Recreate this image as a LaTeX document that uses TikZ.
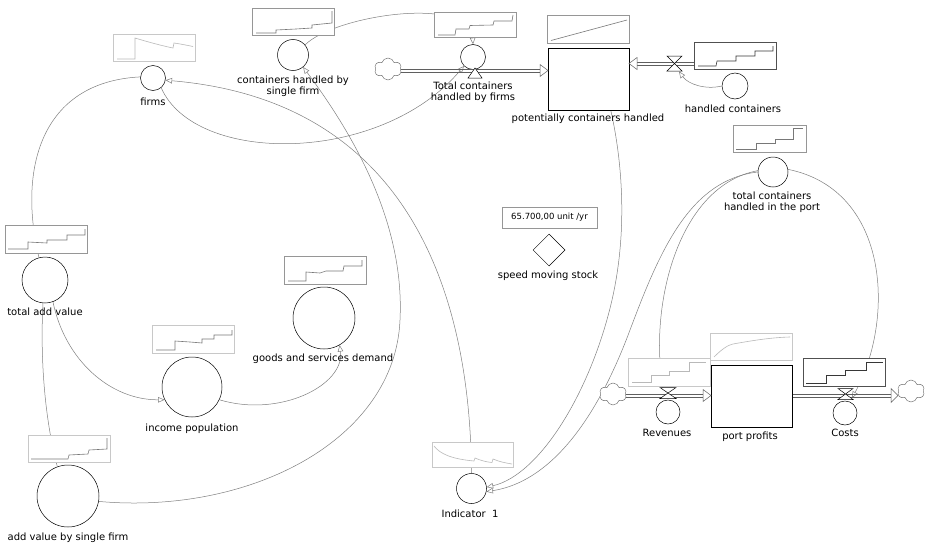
\documentclass[tikz,border=0pt]{standalone}
\usepackage{fontspec}
\setmainfont{DejaVu Sans}
\usetikzlibrary{arrows.meta,shapes.geometric,shapes.symbols,backgrounds}

\definecolor{linkgray}{RGB}{128,128,128}
\definecolor{pipegray}{RGB}{95,95,95}
\definecolor{boxlight}{RGB}{200,200,200}
\definecolor{boxmid}{RGB}{150,150,150}
\definecolor{boxdark}{RGB}{80,80,80}
\definecolor{sparklight}{RGB}{185,185,185}
\definecolor{sparkmid}{RGB}{120,120,120}
\definecolor{sparkdark}{RGB}{55,55,55}

% small time-series curve drawn inside a graph box, in box coordinates
\newcommand{\sparkline}[3]{\draw[#2,line width=0.6pt,shift={(#1.north west)}] #3;}
% horizontal flow pipe: two parallel rails between two named points
\newcommand{\piperails}[2]{%
  \draw[pipe] ([yshift=1.5pt]#1) -- ([yshift=1.5pt]#2);
  \draw[pipe] ([yshift=-1.5pt]#1) -- ([yshift=-1.5pt]#2);}

\begin{document}
\begin{tikzpicture}[x=1pt,y=-1pt,
  every node/.style={font=\fontsize{10}{11}\selectfont},
  aux/.style={circle,draw=black,line width=0.5pt,fill=white,inner sep=0pt,minimum size=#1},
  stockbox/.style={draw=black,line width=0.7pt,fill=white,inner sep=0pt,anchor=north west},
  gbox/.style={draw=#1,fill=white,line width=0.6pt,anchor=north west,inner sep=0pt,minimum width=82pt,minimum height=27pt},
  lbl/.style={align=center,inner sep=0pt},
  link/.style={draw=linkgray,line width=0.5pt},
  arr/.style={-{Triangle[open,length=6.5pt,width=5.5pt]}},
  pipe/.style={draw=pipegray,line width=0.6pt},
  pipehead/.style={draw=pipegray,fill=white,line width=0.5pt,line join=miter},
  valve/.style={draw=black,fill=white,line width=0.5pt,line join=miter},
  cloudy/.style={cloud,cloud puffs=6,aspect=1.25,draw=pipegray,fill=white,inner sep=0pt,minimum width=27pt,minimum height=22pt}]

\useasboundingbox (0,0) rectangle (926,546);

% ---------- auxiliaries ----------
\node[aux=25] (firms) at (153,78) {};
\node[aux=31] (csf) at (293,55) {};
\node[aux=25] (tcf) at (473,57) {};
\node[aux=26] (hc) at (735,86) {};
\node[aux=30] (tcp) at (773,172) {};
\node[aux=46] (tav) at (45,280) {};
\node[aux=60] (inc) at (192,387) {};
\node[aux=62] (gsd) at (324,318) {};
\node[aux=62] (av) at (68,496) {};
\node[aux=30] (ind) at (471.5,488.5) {};
\node[aux=24] (rev) at (668,412) {};
\node[aux=24] (cst) at (845,413) {};

% ---------- stocks ----------
\node[stockbox,minimum width=81pt,minimum height=62pt] (ps) at (548,48) {};
\node[stockbox,minimum width=81pt,minimum height=62pt] (pp) at (711,365) {};

% ---------- clouds ----------
\node[cloudy] (cl1) at (388,69) {};
\node[cloudy] (cl2) at (613,394) {};
\node[cloudy] (cl3) at (911,391) {};

% ---------- constant ----------
\node[draw=boxmid,line width=0.6pt,minimum width=95pt,minimum height=21pt,inner sep=0pt,font=\fontsize{8.5}{10}\selectfont] (sval) at (549.5,217.5) {65.700,00 unit /yr};
\node[diamond,draw=black,line width=0.5pt,minimum width=32pt,minimum height=32pt,inner sep=0pt] (sms) at (549,250) {};

% ---------- graph boxes ----------
\node[gbox=boxlight] (gF) at (113,34) {};
\node[gbox=boxmid] (gC) at (252,8) {};
\node[gbox=boxmid,minimum height=25pt] (gT) at (434,12) {};
\node[gbox=boxmid,minimum height=28pt] (gP) at (547,15) {};
\node[gbox=boxdark] (gH) at (694,42) {};
\node[gbox=boxmid,minimum width=73pt] (gTP) at (733,125) {};
\node[gbox=boxmid,minimum height=28pt] (gTA) at (5,225) {};
\node[gbox=boxlight,minimum height=28pt] (gI) at (152,325) {};
\node[gbox=boxmid,minimum height=28pt] (gG) at (284,256) {};
\node[gbox=boxlight] (gA) at (28,435) {};
\node[gbox=boxlight,minimum width=81pt,minimum height=25pt] (gIn) at (432,442) {};
\node[gbox=boxlight,minimum height=28pt] (gR) at (628,358) {};
\node[gbox=boxlight] (gPP) at (710,333) {};
\node[gbox=boxdark,minimum height=28pt] (gCo) at (803,358) {};

\sparkline{gF}{sparklight}{(4,25) -- (22,25) -- (22,4) .. controls (35,8) and (50,12) .. (60,14) -- (61,9) .. controls (68,10) and (75,11.5) .. (80,12.5)}
\sparkline{gC}{sparkmid}{(4,25) -- (24,25) -- (24,22) -- (44,21) -- (60,20) -- (60,17) -- (70,16) -- (80,15) -- (80,3)}
\sparkline{gT}{sparkmid}{(4,23) -- (21,23) -- (22,17) -- (35,17) -- (36,13.5) -- (59,13) -- (60,9) -- (78,9) -- (79,3)}
\sparkline{gP}{sparkmid}{(4,25.5) -- (80,5)}
\sparkline{gH}{sparkdark}{(4,24) -- (22,24) -- (23,19) -- (42,19) -- (42,14) -- (61,14) -- (61,9) -- (79,9) -- (79,4)}
\sparkline{gTP}{sparkmid}{(3,24) -- (23,24) -- (23,18) -- (42,18) -- (42,14) -- (60,14) -- (60,3) -- (70,3)}
\sparkline{gTA}{sparkmid}{(3,24) -- (23,24) -- (23,17) -- (42,18) -- (42,15) -- (62,15) -- (62,10) -- (80,10) -- (80,4)}
\sparkline{gI}{sparkmid}{(4,25) -- (23,25) -- (23,16) -- (38,17) -- (50,18) -- (50,14) -- (62,14) -- (62,10) -- (80,10) -- (80,5)}
\sparkline{gG}{sparkmid}{(4,25) -- (22,25) -- (22,16) -- (36,17) -- (42,15) -- (59,15) -- (60,10) -- (78,10) -- (78,4)}
\sparkline{gA}{sparkmid}{(3,24) -- (40,24) -- (41,20) -- (60,19) -- (61,15) -- (79,14) -- (79,3)}
\sparkline{gIn}{sparklight}{(2,4) .. controls (8,12) and (20,17) .. (42,19) -- (43,16) .. controls (50,19) and (55,20) .. (60,20.5) -- (61,17) .. controls (68,20) and (74,21) .. (80,22)}
\sparkline{gR}{sparklight}{(4,24) -- (23,24) -- (23,17) -- (41,17) -- (41,13) -- (61,13) -- (61,4) -- (78,4)}
\sparkline{gPP}{sparklight}{(4,24) .. controls (12,16) and (18,12) .. (23,11) .. controls (40,8) and (60,4.5) .. (80,4)}
\sparkline{gCo}{sparkdark}{(3,25) -- (23,25) -- (23,17) -- (42,17) -- (42,12) -- (63,12) -- (63,4) -- (80,4)}

% ---------- labels ----------
\node[lbl] (lfirms) at (153,102) {firms};
\node[lbl] (lcsf) at (293,86.5) {containers handled by\\single firm};
\node[lbl] (ltcf) at (473,92.5) {Total containers\\handled by firms};
\node[lbl] (lps) at (588,119) {potentially containers handled};
\node[lbl] (lhc) at (733,109) {handled containers};
\node[lbl] (ltcp) at (772,202) {total containers\\handled in the port};
\node[lbl] (lsms) at (548,276) {speed moving stock};
\node[lbl] (ltav) at (45,312) {total add value};
\node[lbl] (linc) at (192,429) {income population};
\node[lbl] (lgsd) at (323,359) {goods and services demand};
\node[lbl] (lav) at (68,538) {add value by single firm};
\node[lbl] (lind) at (470,514) {Indicator\ \ 1};
\node[lbl] (lrev) at (667,433) {Revenues};
\node[lbl] (lpp) at (750,437) {port profits};
\node[lbl] (lcst) at (845,433) {Costs};

% ---------- flow pipes ----------
\coordinate (pin1) at (548,70.5);
\coordinate (pin2) at (629,63.5);
\coordinate (pin3) at (711,395.5);
\coordinate (pout) at (898,395.5);
\coordinate (p1s) at (cl1.east |- pin1);
\coordinate (p1e) at ([xshift=-8pt]pin1);
\coordinate (p2s) at (gH.west |- pin2);
\coordinate (p2e) at ([xshift=8pt]pin2);
\coordinate (p3s) at (cl2.east |- pin3);
\coordinate (p3e) at ([xshift=-8pt]pin3);
\coordinate (p4s) at (pp.east |- pout);
\coordinate (p4e) at ([xshift=-7pt]pout);
\piperails{p1s}{p1e}
\piperails{p2s}{p2e}
\piperails{p3s}{p3e}
\piperails{p4s}{p4e}
\draw[pipehead] (pin1) -- ++(-8,-6) -- ++(0,12) -- cycle;
\draw[pipehead] (pin2) -- ++(8,-6) -- ++(0,12) -- cycle;
\draw[pipehead] (pin3) -- ++(-8,-6) -- ++(0,12) -- cycle;
\draw[pipehead] (pout) -- ++(-7,-7) -- ++(0,14) -- cycle;

% ---------- valves ----------
\draw[valve] (468,78) -- (482,78) -- (475,68) -- cycle;
\draw[valve] (667,56) -- (682,56) -- (667,71) -- (682,71) -- cycle;
\draw[valve] (660,387.5) -- (676,387.5) -- (660,398.5) -- (676,398.5) -- cycle;
\draw[valve] (838,388.5) -- (853,388.5) -- (838,399.5) -- (853,399.5) -- cycle;

\begin{scope}[on background layer]
  \fill[white] (0,0) rectangle (926,546);
  % information links
  \coordinate (rvin) at (663,388);
  \coordinate (cvin) at (852,398);
  \coordinate (hvin) at (679,71.5);
  \draw[link,arr] (firms.-50) .. controls (195,165) and (380,165) .. (tcf.-135);
  \draw[link,arr] (ind.north) .. controls (470,280) and (400,100) .. (firms.-10);
  \draw[link,arr] (av.-10) .. controls (250,515) and (395,440) .. (400,320) .. controls (405,220) and (350,130) .. (csf.-50);
  \draw[link,arr] (csf.40) .. controls (335,15) and (470,-5) .. (tcf.north);
  \draw[link,arr] (tcp.175) .. controls (680,185) and (650,300) .. (rvin);
  \draw[link,arr] (tcp.180) .. controls (690,180) and (660,250) .. (630,330) .. controls (604,400) and (560,480) .. (ind.-12);
  \draw[link,arr] ([xshift=22pt]ps.south) .. controls (622,160) and (628,230) .. (612,300) .. controls (591,391) and (540,475) .. (ind.5);
  \draw[link,arr] (tcp.10) .. controls (890,190) and (895,320) .. (cvin);
  \draw[link,arr] (hc.west) .. controls (705,90) and (688,84) .. (hvin);
  \draw[link,arr] (inc.-25) .. controls (280,418) and (345,385) .. (gsd.-60);
  \draw[link,arr] (tav.-70) .. controls (65,360) and (110,400) .. (inc.-155);
  \draw[link] (tav.-95) .. controls (40,360) and (45,420) .. (av.110);
  \draw[link] (firms.175) .. controls (40,82) and (18,170) .. (tav.105);
\end{scope}
\end{tikzpicture}
\end{document}
